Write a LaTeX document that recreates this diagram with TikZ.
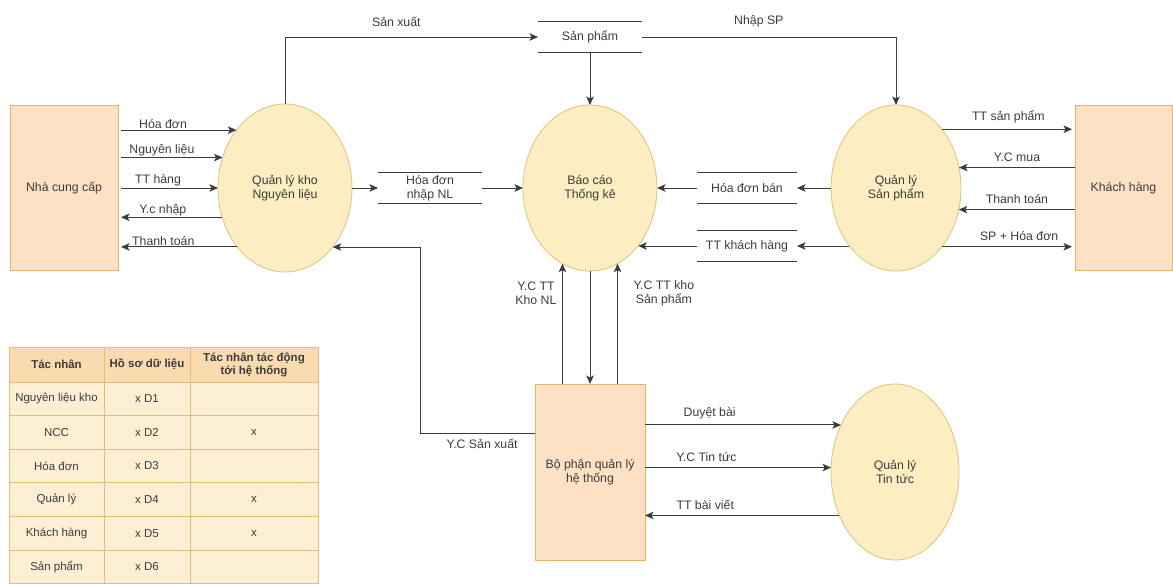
\documentclass[tikz,border=0pt]{standalone}
\usepackage{fontspec}
\setmainfont{Liberation Sans}
\usetikzlibrary{arrows.meta,shapes.geometric}

\definecolor{peach}{HTML}{FDE1C4}
\definecolor{peachline}{HTML}{E8B46C}
\definecolor{cream}{HTML}{FCEDC2}
\definecolor{creamline}{HTML}{DCC27C}
\definecolor{ink}{HTML}{3C3C3C}
\definecolor{headfill}{HTML}{FADBB0}
\definecolor{cellfill}{HTML}{FDEFD3}
\definecolor{tableline}{HTML}{E6BE7C}

\begin{document}
\begin{tikzpicture}[x=1pt,y=-1pt,
  font=\fontsize{12.3}{14}\selectfont, text=ink,
  agent/.style={draw=peachline, fill=peach, line width=0.8pt, align=center, inner sep=0pt, outer sep=0pt},
  proc/.style={ellipse, draw=creamline, fill=cream, line width=0.8pt, align=center, inner sep=0pt, outer sep=0pt},
  store/.style={align=center, inner sep=0pt, outer sep=0pt, minimum height=31pt},
  flow/.style={draw=ink, line width=1pt, -{Stealth[length=8.5pt,width=7.5pt,inset=2pt]}},
  lbl/.style={inner sep=1.5pt, align=center},
  tline/.style={draw=tableline, line width=0.8pt}]
\useasboundingbox (0,0) rectangle (1173,584);

% Agents and processes
\node[agent, minimum width=108pt, minimum height=165pt] (ncc) at (64,188) {Nhà cung cấp};
\node[proc, minimum width=134pt, minimum height=168pt] (ql1) at (285,188) {Quản lý kho\\Nguyên liệu};
\node[proc, minimum width=134pt, minimum height=166pt] (bc) at (590,188) {Báo cáo\\Thống kê};
\node[proc, minimum width=130pt, minimum height=166pt] (qlsp) at (896,188) {Quản lý\\Sản phẩm};
\node[agent, minimum width=97pt, minimum height=165pt] (kh) at (1123.5,188) {Khách hàng};
\node[agent, minimum width=110pt, minimum height=176pt] (bp) at (590,472) {Bộ phận quản lý\\hệ thống};
\node[proc, minimum width=128pt, minimum height=176pt] (qltt) at (895,472) {Quản lý\\Tin tức};

% Data stores
\node[store, minimum width=104pt] (hdnl) at (430,188) {Hóa đơn\\nhập NL};
\node[store, minimum width=104pt] (sp) at (590,37) {Sản phẩm};
\node[store, minimum width=100pt] (hdb) at (747,188) {Hóa đơn bán};
\node[store, minimum width=100pt] (tkh) at (747,246) {TT khách hàng};
\foreach \s in {hdnl,sp,hdb,tkh}
  \draw[ink, line width=1pt] (\s.north west) -- (\s.north east) (\s.south west) -- (\s.south east);

% Nha cung cap <-> Quan ly kho
\draw[flow, shorten <=3pt] (ncc.east |- ql1.130) -- node[lbl, above, pos=.38] {Hóa đơn} (ql1.130);
\draw[flow, shorten <=3pt] (ncc.east |- ql1.154) -- node[lbl, above, pos=.42] {Nguyên liệu} (ql1.154);
\draw[flow, shorten <=3pt] (ncc.east |- ql1.west) -- node[lbl, above, pos=.4] {TT hàng} (ql1.west);
\draw[flow, shorten >=3pt] (ql1.205) -- node[lbl, above, inner sep=0.5pt, pos=.57] {Y.c nhập} (ql1.205 -| ncc.east);
\draw[flow, shorten >=3pt] (ql1.231) -- node[lbl, above, inner sep=0.5pt, pos=.62] {Thanh toán} (ql1.231 -| ncc.east);

% San pham
\draw[flow] (ql1.north) |- node[lbl, pos=.72, above=8pt] {Sản xuất} (sp.west);
\draw[flow] (sp.south) -- (bc.north);
\draw[flow] (sp.east) -| node[lbl, pos=.23, above=8pt] {Nhập SP} (qlsp.north);

% Bao cao thong ke
\draw[flow] (ql1.east) -- (hdnl.west);
\draw[flow] (hdnl.east) -- (bc.west);
\draw[flow] (qlsp.west) -- (hdb.east);
\draw[flow] (hdb.west) -- (bc.east);
\draw[flow] (tkh.east -| qlsp.231) -- (tkh.east);
\draw[flow] (tkh.west) -- (tkh.west -| bc.310);

% Quan ly san pham <-> Khach hang
\draw[flow, shorten >=3pt] (qlsp.52) -- node[lbl, above=4pt] {TT sản phẩm} (qlsp.52 -| kh.west);
\draw[flow] (kh.west |- qlsp.18) -- node[lbl, above=4pt] {Y.C mua} (qlsp.18);
\draw[flow] (kh.west |- qlsp.341) -- node[lbl, above=4pt] {Thanh toán} (qlsp.341);
\draw[flow, shorten >=3pt] (qlsp.308) -- node[lbl, above=4pt, pos=.58] {SP + Hóa đơn} (qlsp.308 -| kh.west);

% Bo phan quan ly he thong
\draw[flow] (bc.250 |- bp.north) -- node[lbl, left=4pt, pos=.75] {Y.C TT\\Kho NL} (bc.250);
\draw[flow] (bc.south) -- (bp.north);
\draw[flow] (bc.290 |- bp.north) -- node[lbl, right=14pt, pos=.75] {Y.C TT kho\\Sản phẩm} (bc.290);
\coordinate (ycsx) at (420,247);
\draw[flow] (bp.145) -| node[lbl, below=4pt, pos=.23] {Y.C Sản xuất} (ycsx) -- (ycsx -| ql1.309);

% Quan ly tin tuc
\draw[flow] (bp.east |- qltt.139) -- node[lbl, above=4pt, pos=.33] {Duyệt bài} (qltt.139);
\draw[flow] (bp.east |- qltt.176) -- node[lbl, above=4pt, pos=.33] {Y.C Tin tức} (qltt.176);
\draw[flow] (qltt.218) -- node[lbl, above=4pt, pos=.69] {TT bài viết} (qltt.218 -| bp.east);

% Table
\fill[headfill] (9,347) rectangle (318,382);
\fill[cellfill] (9,382) rectangle (318,583.6);
\draw[tline] (9,347) -- (318,347);
\foreach \i in {0,...,6}
  \draw[tline] (9,{382+33.6*\i}) -- (318,{382+33.6*\i});
\foreach \x in {9,104,190,318}
  \draw[tline] (\x,347) -- (\x,583.6);
\begin{scope}[font=\fontsize{11.5}{13}\selectfont]
\node[font=\fontsize{11.5}{13}\selectfont\bfseries] (ha) at (56.5,364.5) {Tác nhân};
\node[font=\fontsize{11.5}{13}\selectfont\bfseries] (hb) at (147,364.5) {Hồ sơ dữ liệu};
\node[font=\fontsize{11.5}{13}\selectfont\bfseries, align=center] (hc) at (254,364.5) {Tác nhân tác động\\tới hệ thống};
\foreach \name/\rec/\act [count=\i] in {Nguyên liệu kho/x D1/{}, NCC/x D2/x, Hóa đơn/x D3/{}, Quản lý/x D4/x, Khách hàng/x D5/x, Sản phẩm/x D6/{}} {
  \node (ra\i) at (56.5,{365.2+33.6*\i}) {\name};
  \node (rb\i) at (147,{365.2+33.6*\i}) {\rec};
  \node (rc\i) at (254,{365.2+33.6*\i}) {\act};
}
\end{scope}
\end{tikzpicture}
\end{document}
